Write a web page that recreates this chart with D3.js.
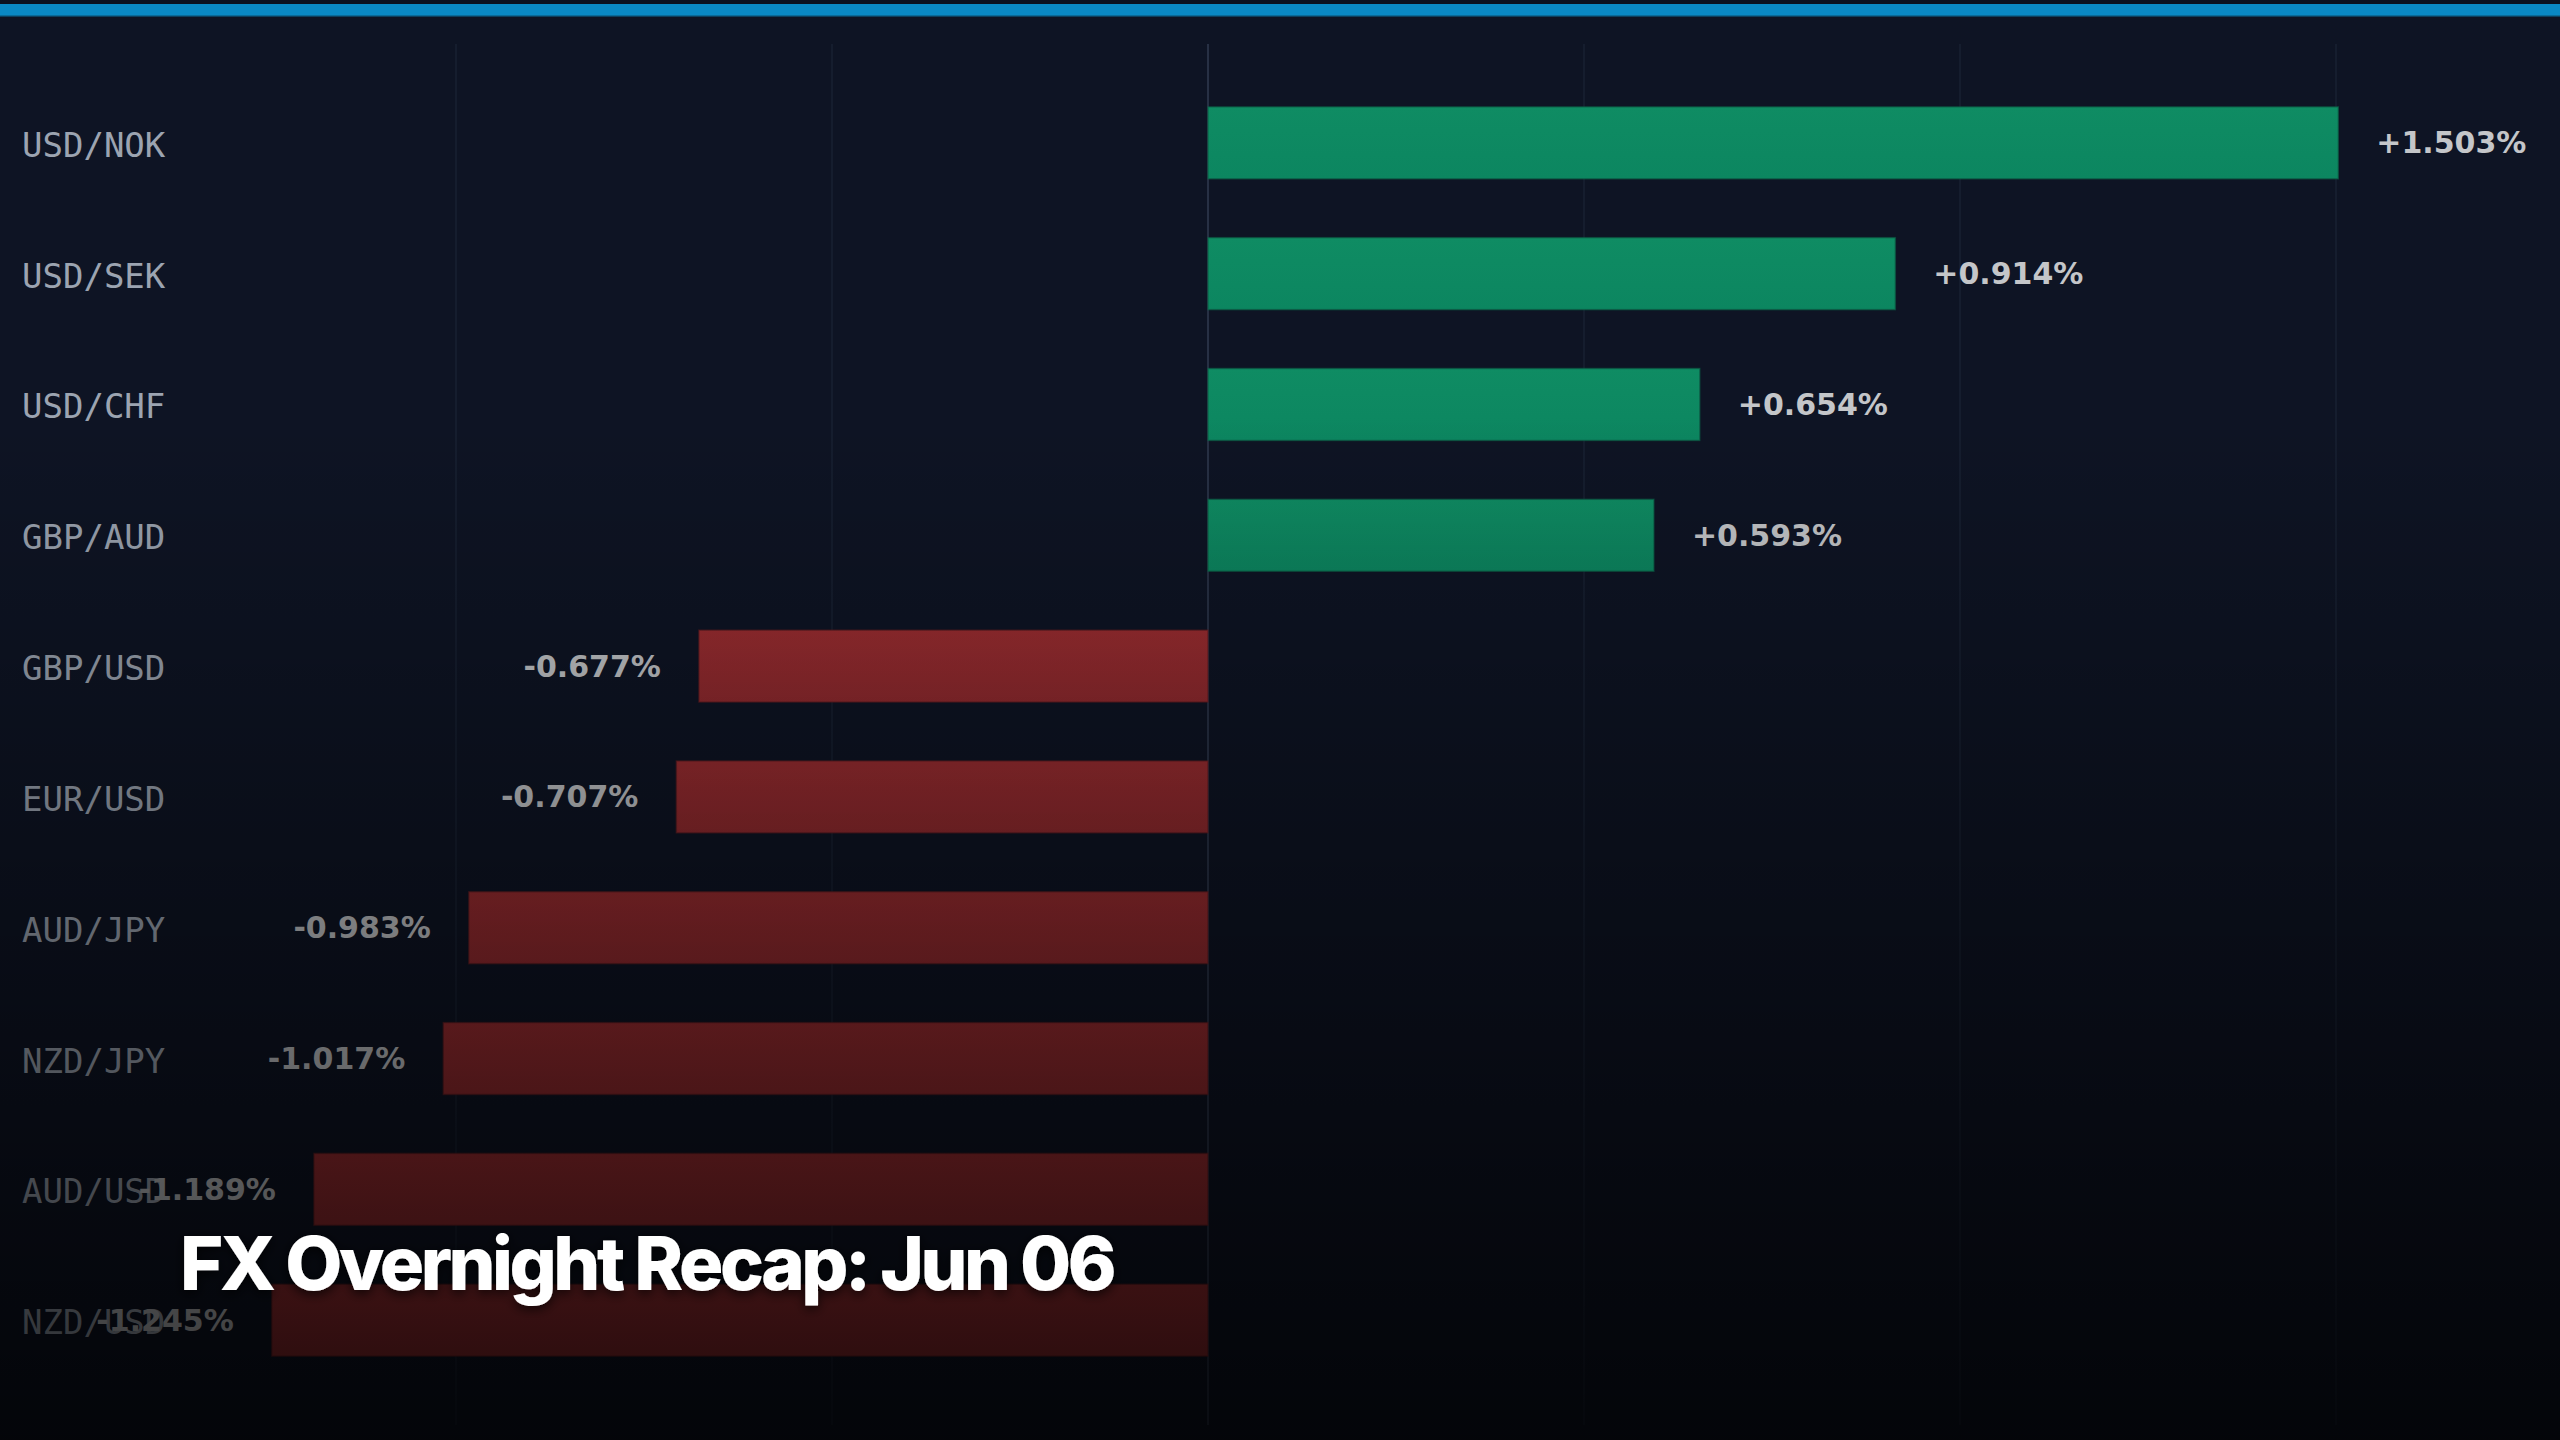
<!DOCTYPE html>
<html>
<head>
<meta charset="utf-8">
<script src="https://cdn.jsdelivr.net/npm/d3@7"></script>
<style>
  html, body { margin: 0; padding: 0; background: #0e1424; }
  svg { display: block; }
</style>
</head>
<body>
<svg id="chart" width="2560" height="1440"></svg>
<script>
// ---- data ----
const pairs = ["USD/NOK", "USD/SEK", "USD/CHF", "GBP/AUD", "GBP/USD", "EUR/USD", "AUD/JPY", "NZD/JPY", "AUD/USD", "NZD/USD"];
const changes = [1.503, 0.914, 0.654, 0.593, -0.677, -0.707, -0.983, -1.017, -1.189, -1.245];
const tickValues = [-1, -0.5, 0, 0.5, 1, 1.5];
const titleText = "FX Overnight Recap: Jun 06";

const W = 2560, H = 1440;
const svg = d3.select("#chart");
const defs = svg.append("defs");

// background
svg.append("rect").attr("width", W).attr("height", H).attr("fill", "#0e1424");
// top accent strip
svg.append("rect").attr("x", 0).attr("y", 0).attr("width", W).attr("height", 5).attr("fill", "#0b1120");
svg.append("rect").attr("x", 0).attr("y", 4).attr("width", W).attr("height", 12).attr("fill", "#0a88c4");
svg.append("rect").attr("x", 0).attr("y", 15).attr("width", W).attr("height", 1.5).attr("fill", "#0a6a98");

// scales
const x = d3.scaleLinear().domain([-1.4, 1.7]).range([155.2, 2486.4]);
const y = d3.scaleBand().domain(pairs).range([48, 1415]).paddingInner(0.45).paddingOuter(0.45);

const plotTop = 44, plotBottom = 1425;

// gridlines
const grid = svg.append("g");
grid.selectAll("line").data(tickValues).join("line")
  .attr("x1", d => x(d)).attr("x2", d => x(d))
  .attr("y1", plotTop).attr("y2", plotBottom)
  .attr("stroke", d => d === 0 ? "#273044" : "#182032")
  .attr("stroke-width", d => d === 0 ? 2 : 1.5);

// bar gradients
const gGreen = defs.append("linearGradient").attr("id", "gGreen").attr("x1", 0).attr("y1", 0).attr("x2", 0).attr("y2", 1);
gGreen.append("stop").attr("offset", "0%").attr("stop-color", "#0f8c63");
gGreen.append("stop").attr("offset", "100%").attr("stop-color", "#0c8660");
const gRed = defs.append("linearGradient").attr("id", "gRed").attr("x1", 0).attr("y1", 0).attr("x2", 0).attr("y2", 1);
gRed.append("stop").attr("offset", "0%").attr("stop-color", "#9c2d31");
gRed.append("stop").attr("offset", "100%").attr("stop-color", "#922a2f");

// bars
svg.append("g").selectAll("rect").data(pairs).join("rect")
  .attr("x", (d, i) => Math.min(x(0), x(changes[i])))
  .attr("y", d => y(d))
  .attr("width", (d, i) => Math.abs(x(changes[i]) - x(0)))
  .attr("height", y.bandwidth())
  .attr("fill", (d, i) => changes[i] >= 0 ? "url(#gGreen)" : "url(#gRed)")
  .attr("stroke", (d, i) => changes[i] >= 0 ? "#0b5c44" : "#5e1d22")
  .attr("stroke-width", 1.5)
  .attr("stroke-opacity", 0.6);

// category labels
svg.append("g").selectAll("text").data(pairs).join("text")
  .attr("x", 22)
  .attr("y", d => y(d) + y.bandwidth() / 2 + 2)
  .attr("dominant-baseline", "central")
  .attr("font-family", "'DejaVu Sans Mono', monospace")
  .attr("font-size", 34)
  .attr("fill", "#9ca4b1")
  .text(d => d);

// value labels
const fmt = v => (v >= 0 ? "+" : "") + v.toFixed(3) + "%";
svg.append("g").selectAll("text").data(pairs).join("text")
  .attr("x", (d, i) => changes[i] >= 0 ? x(changes[i]) + 38 : x(changes[i]) - 38)
  .attr("y", d => y(d) + y.bandwidth() / 2)
  .attr("dominant-baseline", "central")
  .attr("text-anchor", (d, i) => changes[i] >= 0 ? "start" : "end")
  .attr("font-family", "'DejaVu Sans', sans-serif")
  .attr("font-weight", "bold")
  .attr("font-size", 30)
  .attr("fill", "#c4c6c9")
  .text((d, i) => fmt(changes[i]));

// darkening overlay toward the bottom
const ov = defs.append("linearGradient").attr("id", "ov").attr("x1", 0).attr("y1", 0).attr("x2", 0).attr("y2", 1);
ov.append("stop").attr("offset", "0%").attr("stop-color", "#000").attr("stop-opacity", 0);
ov.append("stop").attr("offset", "29%").attr("stop-color", "#000").attr("stop-opacity", 0);
ov.append("stop").attr("offset", "100%").attr("stop-color", "#000").attr("stop-opacity", 0.74);
svg.append("rect").attr("width", W).attr("height", H).attr("fill", "url(#ov)");

// title
const sh = defs.append("filter").attr("id", "sh").attr("x", "-10%").attr("y", "-30%").attr("width", "120%").attr("height", "160%");
sh.append("feDropShadow").attr("dx", 0).attr("dy", 3).attr("stdDeviation", 6).attr("flood-color", "#000").attr("flood-opacity", 0.8);
svg.append("text")
  .attr("x", 180)
  .attr("y", 1290)
  .attr("font-family", "Inter, 'Liberation Sans', sans-serif")
  .attr("font-weight", 800)
  .attr("font-size", 74)
  .attr("letter-spacing", "-3.5px")
  .attr("fill", "#ffffff")
  .attr("filter", "url(#sh)")
  .text(titleText);
</script>
</body>
</html>
